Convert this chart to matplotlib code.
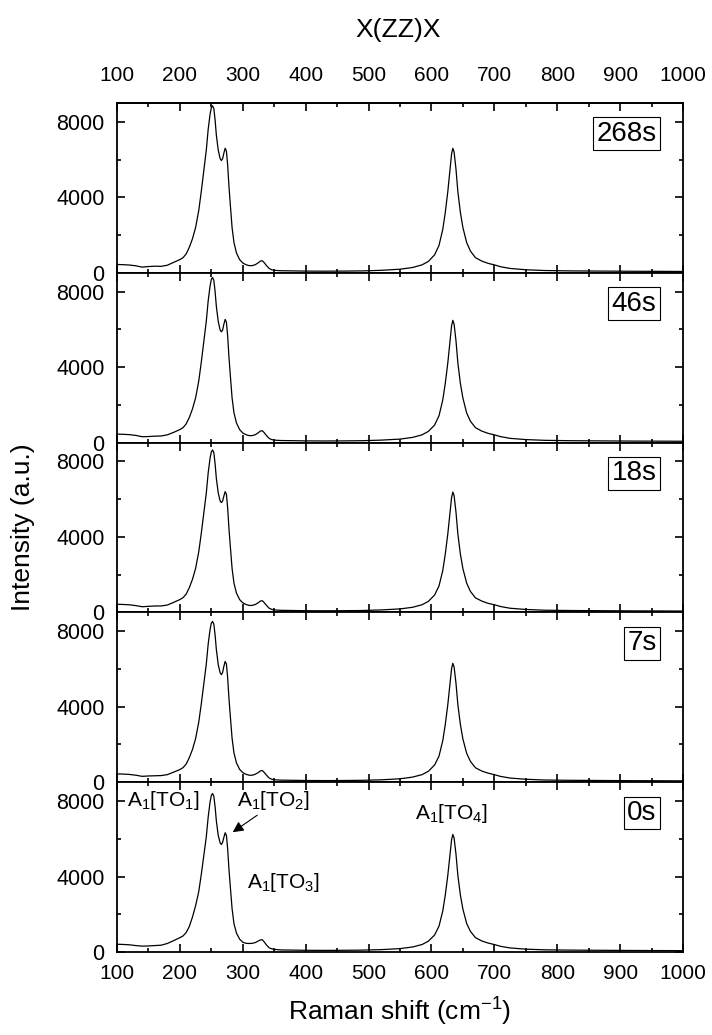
import matplotlib
matplotlib.use("Agg")
import matplotlib.pyplot as plt
from matplotlib.ticker import MultipleLocator

plt.rcParams["font.family"] = ["Liberation Sans", "DejaVu Sans"]
plt.rcParams["mathtext.default"] = "regular"

# Raman shift sample positions (cm-1), shared by all panels
shift = [100, 110, 120, 130, 140, 150, 160, 170, 180, 190, 200, 205, 210, 215, 220,
         225, 230, 234, 238, 242, 245, 248, 250, 252, 254, 256, 258, 261, 264, 266,
         268, 270, 272, 274, 276, 278, 280, 283, 286, 290, 295, 300, 305, 310, 315,
         320, 325, 328, 331, 334, 338, 342, 346, 350, 360, 380, 400, 430, 460, 490,
         520, 550, 570, 585, 595, 605, 612, 618, 622, 626, 629, 632, 634, 636, 639,
         642, 646, 650, 656, 662, 670, 680, 690, 700, 710, 725, 750, 780, 820, 870,
         920, 970, 1000]

# intensities (a.u.)
int_268s = [440, 430, 410, 370, 300, 330, 350, 340, 400, 550, 700, 800, 1000, 1350, 1800,
            2400, 3300, 4300, 5400, 6500, 7600, 8400, 8750, 8850, 8700, 8100, 7300, 6500, 6050, 5950,
            6050, 6350, 6600, 6450, 5700, 4600, 3700, 2400, 1600, 1050, 700, 520, 430, 380, 380,
            430, 540, 620, 640, 540, 370, 230, 160, 130, 110, 100, 90, 85, 90, 100,
            130, 190, 280, 420, 600, 950, 1450, 2300, 3200, 4300, 5300, 6300, 6600, 6400, 5500,
            4300, 3200, 2400, 1600, 1150, 800, 620, 500, 420, 320, 230, 160, 120, 100, 90,
            80, 75, 70]
int_46s = [450, 440, 420, 380, 310, 320, 340, 350, 410, 540, 690, 790, 990, 1330, 1780,
           2370, 3260, 4250, 5340, 6430, 7510, 8300, 8650, 8750, 8600, 8010, 7220, 6420, 5970, 5870,
           5970, 6280, 6530, 6380, 5640, 4550, 3660, 2370, 1580, 1040, 690, 510, 420, 370, 370,
           420, 530, 610, 630, 530, 360, 220, 160, 130, 110, 100, 90, 85, 90, 100,
           130, 185, 275, 410, 590, 930, 1420, 2260, 3140, 4220, 5200, 6190, 6480, 6280, 5400,
           4220, 3140, 2360, 1570, 1130, 790, 610, 490, 410, 315, 225, 160, 120, 100, 90,
           80, 75, 70]
int_18s = [430, 420, 400, 360, 300, 320, 340, 340, 390, 530, 680, 780, 970, 1310, 1750,
           2330, 3210, 4180, 5250, 6320, 7390, 8170, 8510, 8610, 8460, 7880, 7100, 6330, 5910, 5820,
           5910, 6170, 6400, 6260, 5530, 4460, 3590, 2330, 1550, 1020, 680, 510, 420, 370, 370,
           420, 520, 600, 620, 520, 360, 220, 160, 130, 110, 100, 90, 85, 90, 100,
           130, 185, 270, 405, 580, 920, 1400, 2220, 3090, 4160, 5120, 6090, 6380, 6190, 5320,
           4160, 3090, 2320, 1550, 1110, 770, 600, 480, 405, 310, 220, 155, 115, 100, 90,
           80, 75, 70]
int_7s = [440, 430, 410, 370, 310, 330, 340, 350, 400, 530, 670, 770, 960, 1300, 1730,
          2310, 3180, 4140, 5200, 6260, 7320, 8090, 8430, 8520, 8380, 7800, 7030, 6230, 5800, 5700,
          5820, 6150, 6400, 6260, 5530, 4460, 3590, 2330, 1550, 1020, 680, 510, 420, 370, 370,
          420, 520, 600, 620, 520, 360, 220, 160, 130, 110, 100, 90, 85, 90, 100,
          125, 180, 270, 400, 575, 910, 1380, 2200, 3060, 4110, 5060, 6020, 6300, 6110, 5250,
          4110, 3060, 2290, 1530, 1100, 765, 590, 480, 400, 305, 220, 155, 115, 100, 90,
          80, 75, 70]
int_0s = [410, 400, 380, 340, 310, 320, 340, 360, 450, 600, 760, 850, 1030, 1350, 1850,
          2450, 3200, 4100, 5100, 6100, 7150, 7950, 8300, 8400, 8250, 7700, 6950, 6180, 5780, 5700,
          5820, 6080, 6320, 6180, 5460, 4400, 3550, 2300, 1500, 1000, 680, 520, 460, 450, 460,
          500, 590, 640, 650, 540, 360, 220, 170, 140, 110, 100, 90, 85, 90, 100,
          125, 180, 265, 395, 570, 900, 1370, 2170, 3020, 4060, 5000, 5950, 6230, 6040, 5190,
          4060, 3020, 2270, 1510, 1090, 760, 585, 475, 395, 300, 215, 150, 115, 100, 90,
          80, 75, 70]

panel_labels = ["268s", "46s", "18s", "7s", "0s"]
panel_data = [int_268s, int_46s, int_18s, int_7s, int_0s]

fig, axes = plt.subplots(5, 1, figsize=(7.12, 10.35), dpi=100, sharex=True)
fig.subplots_adjust(left=0.1643, right=0.9593, top=0.9005, bottom=0.0802, hspace=0)

for ax, label, y in zip(axes, panel_labels, panel_data):
    ax.plot(shift, y, color="black", linewidth=0.9)
    ax.set_xlim(100, 1000)
    ax.set_ylim(0, 9000)
    ax.xaxis.set_major_locator(MultipleLocator(100))
    ax.xaxis.set_minor_locator(MultipleLocator(50))
    ax.set_yticks([0, 4000, 8000])
    ax.yaxis.set_minor_locator(MultipleLocator(2000))
    ax.tick_params(which="both", direction="in", top=True, right=True,
                   labelsize=15.5, width=1.2)
    ax.tick_params(axis="x", labelsize=15, pad=9)
    ax.tick_params(axis="y", pad=9)
    ax.tick_params(which="major", length=6)
    ax.tick_params(which="minor", length=3)
    for sp in ax.spines.values():
        sp.set_linewidth(1.3)
    ax.text(0.953, 0.895, label, transform=ax.transAxes, ha="right", va="top",
            fontsize=20,
            bbox=dict(boxstyle="square,pad=0.12", facecolor="white",
                      edgecolor="black", linewidth=0.8))

# tick labels along the top of the first panel sit further out
top = axes[0].secondary_xaxis("top")
top.xaxis.set_major_locator(MultipleLocator(100))
top.tick_params(length=0, pad=13, labelsize=15)
top.spines["top"].set_linewidth(1.3)

fig.text(0.559, 1 - 30 / 1035, "X(ZZ)X", fontsize=19, ha="center", va="center")

bottom = axes[-1]
bottom.set_xlabel("Raman shift (cm$^{-1}$)", fontsize=19, labelpad=9)
bottom.text(116, 8030, "A$_1$[TO$_1$]", fontsize=15, ha="left", va="center")
bottom.text(291, 8030, "A$_1$[TO$_2$]", fontsize=15, ha="left", va="center")
bottom.text(307, 3700, "A$_1$[TO$_3$]", fontsize=15, ha="left", va="center")
bottom.text(574, 7340, "A$_1$[TO$_4$]", fontsize=15, ha="left", va="center")
bottom.annotate("", xy=(284, 6350), xytext=(323, 7250),
                arrowprops=dict(arrowstyle="-|>", color="black", lw=0.8,
                                mutation_scale=16, shrinkA=0, shrinkB=0))

fig.text(0.033, 0.491, "Intensity (a.u.)", rotation=90, ha="center", va="center",
         fontsize=19)

fig.savefig("out.png", dpi=100)
